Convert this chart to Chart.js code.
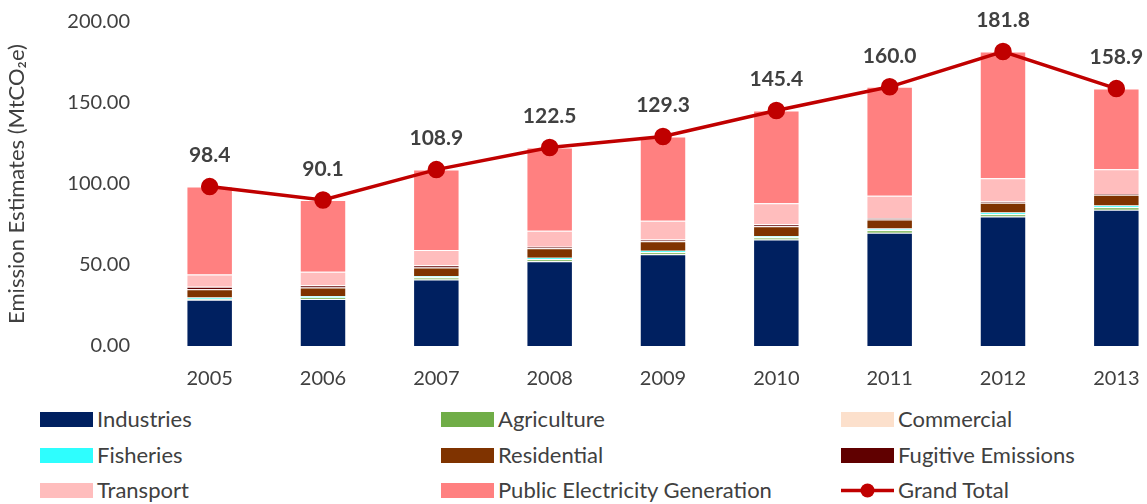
<!DOCTYPE html>
<html>
<head>
<meta charset="utf-8">
<script src="https://cdn.jsdelivr.net/npm/chart.js@4.4.1/dist/chart.umd.min.js"></script>
<style>
  html, body { margin:0; padding:0; background:#fff; overflow:hidden; width:1147px; height:504px; }
  #wrap { position:absolute; left:0; top:0; width:1183px; height:400px; }
  #legend { position:absolute; left:0; top:400px; width:1147px; height:104px; font-family: Lato, "Open Sans", sans-serif; font-size:22px; color:#404040; }
  .item { position:absolute; height:26px; line-height:26px; white-space:nowrap; }
  .sw { position:absolute; left:0; top:5px; width:53px; height:15px; }
  .lbl { position:absolute; left:57px; top:0; }
</style>
</head>
<body>
<div id="wrap"><canvas id="c" width="1183" height="400"></canvas></div>
<div id="legend"></div>
<script>
const years = ["2005","2006","2007","2008","2009","2010","2011","2012","2013"];
const industries  = [28.5, 29.0, 41.0, 52.3, 56.7, 65.7, 69.9, 79.9, 84.1];
const agriculture = [0.4, 0.8, 1.2, 1.2, 1.2, 1.2, 1.6, 1.4, 1.5];
const commercial  = [0.3, 0.2, 0.2, 0.2, 0.2, 0.2, 0.2, 0.2, 0.2];
const fisheries   = [0.8, 0.8, 0.8, 0.8, 0.7, 0.8, 0.8, 0.9, 1.0];
const residential = [5.1, 5.3, 5.3, 5.8, 5.8, 6.0, 5.6, 6.0, 6.6];
const fugitive    = [1.4, 1.4, 1.4, 1.0, 1.2, 1.2, 0.8, 0.8, 0.5];
const transport   = [7.6, 8.4, 9.3, 9.9, 11.5, 13.0, 13.8, 14.4, 15.2];
const publicElec  = [54.3, 44.2, 49.7, 51.3, 52.0, 57.3, 67.3, 78.2, 49.8];
const grandTotal  = [98.4, 90.1, 108.9, 122.5, 129.3, 145.4, 160.0, 181.8, 158.9];
const yTicks = [0, 50, 100, 150, 200];

const FONT = 'Lato, "Open Sans", sans-serif';
const TXT = '#404040';

const barDefs = [
  ["Industries", industries, "#002060"],
  ["Agriculture", agriculture, "#70AD47"],
  ["Commercial", commercial, "#FCE0CC"],
  ["Fisheries", fisheries, "#2EFEFE"],
  ["Residential", residential, "#7F3300"],
  ["Fugitive Emissions", fugitive, "#600000"],
  ["Transport", transport, "#FFBDBD"],
  ["Public Electricity Generation", publicElec, "#FF8080"]
];

const datasets = barDefs.map(([label, data, color]) => ({
  type: 'bar', label, data, backgroundColor: color,
  borderColor: 'rgba(255,255,255,0.35)', borderWidth: 1,
  stack: 'a', order: 2, barPercentage: 0.41, categoryPercentage: 1.0
}));
datasets.push({
  type: 'line', label: 'Grand Total', data: grandTotal, stack: 'total', order: 0,
  borderColor: '#C00000', backgroundColor: '#C00000', borderWidth: 3.5,
  pointRadius: 7, pointHoverRadius: 7, pointBackgroundColor: '#C00000',
  pointBorderColor: '#C00000', tension: 0
});

const labelPlugin = {
  id: 'totLabels',
  afterDatasetsDraw(chart) {
    const ctx = chart.ctx;
    const idx = chart.data.datasets.length - 1;
    const meta = chart.getDatasetMeta(idx);
    ctx.save();
    ctx.font = 'bold 21px ' + FONT;
    ctx.fillStyle = TXT;
    ctx.textAlign = 'center';
    ctx.textBaseline = 'middle';
    meta.data.forEach((pt, i) => {
      ctx.fillText(grandTotal[i].toFixed(1), pt.x, pt.y - 31);
    });
    ctx.restore();
  }
};

const chart = new Chart(document.getElementById('c'), {
  data: { labels: years, datasets },
  options: {
    responsive: false, animation: false,
    layout: { padding: { top: 22, right: 10, left: 0, bottom: 0 }, autoPadding: false },
    plugins: { legend: { display: false }, tooltip: { enabled: false } },
    scales: {
      x: {
        stacked: true,
        grid: { display: false, drawTicks: false },
        border: { display: false },
        ticks: { color: TXT, font: { family: FONT, size: 20 }, padding: 21 },
        afterFit(s) { s.height = 54; }
      },
      y: {
        stacked: true, min: 0, max: 200,
        afterBuildTicks(s) { s.ticks = yTicks.map(v => ({ value: v })); },
        grid: { display: false, drawTicks: false },
        border: { display: false },
        ticks: { color: TXT, font: { family: FONT, size: 20 }, padding: 23,
                 callback: v => Number(v).toFixed(2) },
        title: { display: true, text: 'Emission Estimates (MtCO₂e)', color: TXT,
                 font: { family: FONT, size: 22 }, padding: { top: 4, bottom: 0 } },
        afterFit(s) { s.width = 153; s.paddingTop = 0; s.paddingBottom = 0; }
      }
    }
  },
  plugins: [labelPlugin]
});

// HTML legend built from chart datasets
const leg = document.getElementById('legend');
const colX = [40, 441, 841];
const rowY = [6, 42, 77];
chart.data.datasets.forEach((ds, i) => {
  const col = i % 3, row = Math.floor(i / 3);
  const it = document.createElement('div');
  it.className = 'item';
  it.style.left = colX[col] + 'px';
  it.style.top = rowY[row] + 'px';
  let sw;
  if (ds.type === 'line') {
    sw = '<svg class="sw" style="top:3px;height:21px" width="53" height="21"><line x1="0" y1="10.5" x2="53" y2="10.5" stroke="' + ds.borderColor + '" stroke-width="3.5"/><circle cx="26.5" cy="10.5" r="7" fill="' + ds.borderColor + '"/></svg>';
  } else {
    sw = '<div class="sw" style="top:6px;background:' + ds.backgroundColor + '"></div>';
  }
  it.innerHTML = sw + '<span class="lbl">' + ds.label + '</span>';
  leg.appendChild(it);
});
</script>
</body>
</html>
